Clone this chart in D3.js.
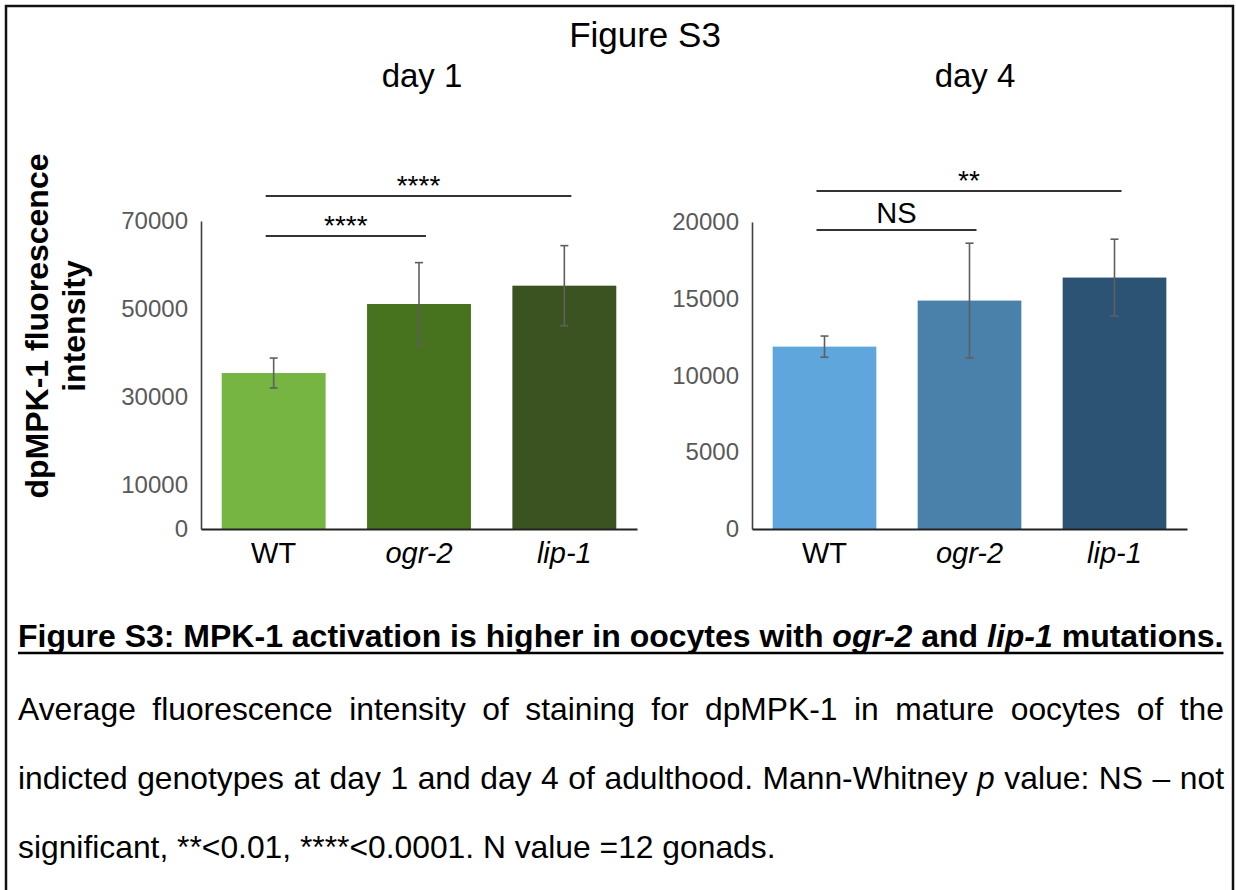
<!DOCTYPE html>
<html>
<head>
<meta charset="utf-8">
<script src="https://cdn.jsdelivr.net/npm/d3@7"></script>
<style>
  body { margin: 0; background: #fff; }
  text { font-family: "Liberation Sans", Arial, sans-serif; white-space: pre; }
</style>
</head>
<body>
<svg id="fig" width="1236" height="890"></svg>
<script>
// data
const categories = ['WT', 'ogr-2', 'lip-1'];
const italicCategories = ['ogr-2', 'lip-1'];

const day1Means = [35450, 51140, 55300];
const day1Errors = [3400, 9400, 9100];
const day1Ticks = [0, 10000, 30000, 50000, 70000];
const day1Colors = ['#77b543', '#48731e', '#3a5320'];
const day1Sig = [
  { from: 0, to: 1, label: '****' },
  { from: 0, to: 2, label: '****' }
];

const day4Means = [11880, 14880, 16380];
const day4Errors = [690, 3740, 2500];
const day4Ticks = [0, 5000, 10000, 15000, 20000];
const day4Colors = ['#5fa6dc', '#4a81ab', '#2c5373'];
const day4Sig = [
  { from: 0, to: 1, label: 'NS' },
  { from: 0, to: 2, label: '**' }
];

const captionTitle = [
  ['Figure S3: MPK-1 activation is higher in oocytes with ', false],
  ['ogr-2', true], [' and ', false], ['lip-1', true], [' mutations.', false]
];
const captionLines = [
  [['Average fluorescence intensity of staining for dpMPK-1 in mature oocytes of the', false]],
  [['indicted genotypes at day 1 and day 4 of adulthood. Mann-Whitney ', false], ['p', true], [' value: NS \u2013 not', false]],
  [['significant, **<0.01, ****<0.0001. N value =12 gonads.', false]]
];

const svg = d3.select('#fig');

// frame (open at the bottom)
svg.append('path')
  .attr('d', 'M6,900 V6 H1233 V900')
  .attr('fill', 'none')
  .attr('stroke', '#111')
  .attr('stroke-width', 2.5);

svg.append('text')
  .attr('x', 645).attr('y', 47)
  .attr('text-anchor', 'middle')
  .style('font-size', '35px')
  .text('Figure S3');

// y title, shared
const yTitle = svg.append('g').attr('transform', 'translate(0,326) rotate(-90)');
yTitle.append('text').attr('x', 0).attr('y', 48)
  .attr('text-anchor', 'middle')
  .style('font-size', '32px').style('font-weight', 'bold')
  .text('dpMPK-1 fluorescence');
yTitle.append('text').attr('x', 0).attr('y', 85)
  .attr('text-anchor', 'middle')
  .style('font-size', '32px').style('font-weight', 'bold')
  .text('intensity');

function drawPanel(opts) {
  const g = svg.append('g');

  const x = d3.scaleBand()
    .domain(categories)
    .range([opts.left, opts.right])
    .paddingInner(0.285)
    .paddingOuter(0.1425);

  const y = d3.scaleLinear()
    .domain([0, opts.max])
    .range([529, opts.top]);

  g.append('text')
    .attr('x', opts.titleX).attr('y', 87)
    .attr('text-anchor', 'middle')
    .style('font-size', '33px')
    .text(opts.title);

  // bars
  g.selectAll('rect.bar')
    .data(categories)
    .join('rect')
    .attr('class', 'bar')
    .attr('x', d => x(d))
    .attr('width', x.bandwidth())
    .attr('y', (d, i) => y(opts.means[i]))
    .attr('height', (d, i) => y(0) - y(opts.means[i]))
    .attr('fill', (d, i) => opts.colors[i]);

  // error bars
  const eb = g.selectAll('g.err')
    .data(categories)
    .join('g')
    .attr('class', 'err')
    .attr('stroke', '#5f5f5f')
    .attr('stroke-width', 1.6);
  const cx = d => x(d) + x.bandwidth() / 2;
  eb.append('line')
    .attr('x1', cx).attr('x2', cx)
    .attr('y1', (d, i) => y(opts.means[i] + opts.errors[i]))
    .attr('y2', (d, i) => y(opts.means[i] - opts.errors[i]));
  eb.append('line')
    .attr('x1', d => cx(d) - 4).attr('x2', d => cx(d) + 4)
    .attr('y1', (d, i) => y(opts.means[i] + opts.errors[i]))
    .attr('y2', (d, i) => y(opts.means[i] + opts.errors[i]));
  eb.append('line')
    .attr('x1', d => cx(d) - 4).attr('x2', d => cx(d) + 4)
    .attr('y1', (d, i) => y(opts.means[i] - opts.errors[i]))
    .attr('y2', (d, i) => y(opts.means[i] - opts.errors[i]));

  // axes
  const yAxis = g.append('g')
    .attr('transform', `translate(${opts.left},0)`)
    .call(d3.axisLeft(y).tickValues(opts.ticks).tickSize(0).tickSizeOuter(0).tickPadding(13).tickFormat(d3.format('d')));
  yAxis.select('.domain').attr('stroke', '#404040').attr('stroke-width', 1.6);
  yAxis.selectAll('text')
    .attr('fill', '#595959')
    .style('font-size', '24px')
    .style('font-family', '"Liberation Sans", Arial, sans-serif');

  const xAxis = g.append('g')
    .attr('transform', 'translate(0,529)')
    .call(d3.axisBottom(x).tickSize(0).tickSizeOuter(0).tickPadding(13));
  xAxis.select('.domain').attr('stroke', '#222').attr('stroke-width', 2);
  xAxis.selectAll('text')
    .attr('fill', '#000')
    .style('font-size', '29px')
    .style('font-family', '"Liberation Sans", Arial, sans-serif')
    .style('font-style', d => italicCategories.includes(d) ? 'italic' : 'normal');

  // significance brackets
  opts.sig.forEach((s, i) => {
    const ly = opts.sigY[i];
    const x1 = cx(categories[s.from]) - 8;
    const x2 = cx(categories[s.to]) + 7;
    g.append('line')
      .attr('x1', x1).attr('x2', x2)
      .attr('y1', ly).attr('y2', ly)
      .attr('stroke', '#333').attr('stroke-width', 2);
    const isStars = s.label.startsWith('*');
    g.append('text')
      .attr('x', (x1 + x2) / 2)
      .attr('y', isStars ? ly - 1 : ly - 7)
      .attr('text-anchor', 'middle')
      .style('font-size', isStars ? '28px' : '29px')
      .text(s.label);
  });
}

drawPanel({
  title: 'day 1', titleX: 422,
  left: 201, right: 637, top: 221, max: 70000,
  means: day1Means, errors: day1Errors, ticks: day1Ticks, colors: day1Colors,
  sig: day1Sig, sigY: [236, 196]
});

drawPanel({
  title: 'day 4', titleX: 975,
  left: 752, right: 1187, top: 222, max: 20000,
  means: day4Means, errors: day4Errors, ticks: day4Ticks, colors: day4Colors,
  sig: day4Sig, sigY: [230, 191]
});

// caption
function addRich(parts, xPos, yPos, size, bold) {
  const t = svg.append('text')
    .attr('x', xPos).attr('y', yPos)
    .style('font-size', size + 'px')
    .style('font-weight', bold ? 'bold' : 'normal');
  parts.forEach(p => {
    t.append('tspan').style('font-style', p[1] ? 'italic' : 'normal').text(p[0]);
  });
  return t;
}

const capLeft = 18, capWidth = 1206;

const title = addRich(captionTitle, capLeft, 647, 26, true);
const tw = title.node().getComputedTextLength();
title.style('font-size', (26 * capWidth / tw) + 'px');
const tw2 = title.node().getComputedTextLength();
svg.append('line')
  .attr('x1', capLeft).attr('x2', capLeft + tw2)
  .attr('y1', 653).attr('y2', 653)
  .attr('stroke', '#000').attr('stroke-width', 2.5);

// body font size from the natural width of the last line
const probe = addRich(captionLines[2], capLeft, -100, 24, false);
const bodySize = 24 * 758 / probe.node().getComputedTextLength();
probe.remove();

const baselines = [720, 789, 858];
captionLines.forEach((line, i) => {
  const t = addRich(line, capLeft, baselines[i], bodySize, false);
  if (i < captionLines.length - 1) {
    const natural = t.node().getComputedTextLength();
    const spaces = line.map(p => p[0]).join('').split(' ').length - 1;
    t.attr('word-spacing', (capWidth - natural) / spaces);
  }
});
</script>
</body>
</html>
